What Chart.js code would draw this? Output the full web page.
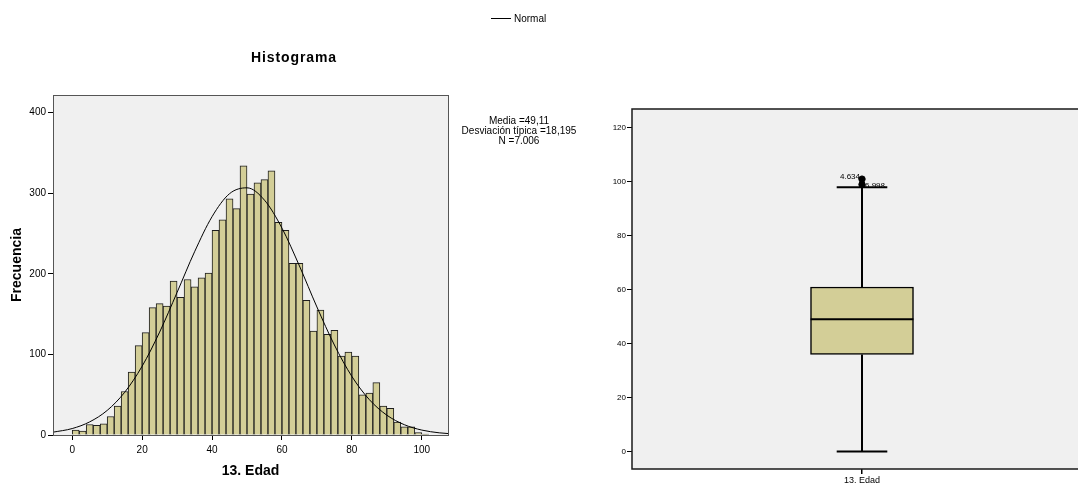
<!DOCTYPE html>
<html><head><meta charset="utf-8">
<script src="https://cdn.jsdelivr.net/npm/chart.js@4/dist/chart.umd.min.js"></script>
<style>
html,body{margin:0;padding:0;background:#fff;overflow:hidden}
#wrap{position:relative;width:1078px;height:483px;overflow:hidden;font-family:"Liberation Sans",Arial,sans-serif;color:#000}
canvas{position:absolute;top:0}
.t{position:absolute;white-space:nowrap}
</style></head><body>
<div id="wrap">
<canvas id="hist" width="600" height="483" style="left:0"></canvas>
<canvas id="box" width="497" height="483" style="left:600px"></canvas>
<div class="t" id="title" style="left:194px;top:49px;width:200px;text-align:center;font-weight:bold;font-size:14px;line-height:16px;letter-spacing:0.9px"></div>
<div style="position:absolute;left:491px;top:18px;width:20px;height:1px;background:#000"></div>
<div class="t" id="legend" style="left:514px;top:13px;font-size:10px;line-height:12px"></div>
<div class="t" id="stats" style="left:419px;top:116px;width:200px;text-align:center;font-size:10px;line-height:10px"></div>
</div>
<script>
// ---------- data ----------
const histTitle = 'Histograma';
const xAxisTitle = '13. Edad';
const yAxisTitle = 'Frecuencia';
const legendLabel = 'Normal';
const statsLines = ['Media =49,11', 'Desviación típica =18,195', 'N =7.006'];

const binCenters = [1,3,5,7,9,11,13,15,17,19,21,23,25,27,29,31,33,35,37,39,41,43,45,47,49,51,53,55,57,59,61,63,65,67,69,71,73,75,77,79,81,83,85,87,89,91,93,95,97,99,101];
const counts = [6,5,13,12,14,23,36,54,78,111,127,158,163,160,191,171,193,184,195,201,254,267,293,281,334,299,313,317,328,264,254,213,213,167,129,155,125,130,98,103,98,50,52,65,36,33,16,10,10,3,1];

const normalX = [-5.5,0,5,10,15,20,25,30,35,40,45,50,55,60,65,70,75,80,85,90,95,100,105,107.5];
const normalY = [3.5,8.0,16.3,30.5,53.0,85.4,127.7,177.0,227.4,271.0,299.5,306.8,291.5,256.8,209.8,158.9,111.7,72.7,43.9,24.6,12.8,6.1,2.7,1.8];

const boxCategory = ['13. Edad'];
const whiskerLow = 0, q1 = 36, median = 49, q3 = 61, whiskerHigh = 98;
const outlierValues = [101, 99];
const outlierLabels = ['4.634', '6.998'];

// ---------- text ----------
document.getElementById('title').textContent = histTitle;
document.getElementById('legend').textContent = legendLabel;
document.getElementById('stats').innerHTML = statsLines.join('<br>');

// ---------- style ----------
const FONT = '"Liberation Sans", Arial, sans-serif';
Chart.defaults.font.family = FONT;
Chart.defaults.color = '#000';
const BAR_FILL = '#d3ce97';
const PLOT_BG = '#f0f0f0';
const BOX_CENTER = 1, CAP_HALF = 0.11, BOX_HALF = 0.2236;

const histFrame = {
  id: 'histFrame',
  afterDraw(chart) {
    const {ctx, chartArea: a} = chart;
    ctx.save();
    ctx.strokeStyle = '#555';
    ctx.lineWidth = 1;
    ctx.strokeRect(Math.round(a.left) + 0.5, Math.round(a.top) + 0.5, Math.round(a.right - a.left), Math.round(a.bottom - a.top));
    ctx.restore();
  }
};
const bgFill = {
  id: 'bgFill',
  beforeDraw(chart) {
    const {ctx, chartArea: a} = chart;
    ctx.save();
    ctx.fillStyle = PLOT_BG;
    ctx.fillRect(a.left, a.top, a.right - a.left, a.bottom - a.top);
    ctx.restore();
  }
};

// ---------- histogram ----------
new Chart(document.getElementById('hist'), {
  type: 'bar',
  data: {
    datasets: [
      {
        type: 'line', label: legendLabel,
        data: normalX.map((x, i) => ({x, y: normalY[i]})),
        borderColor: '#000', borderWidth: 1, pointRadius: 0,
        cubicInterpolationMode: 'monotone', order: 0
      },
      {
        type: 'bar', label: yAxisTitle,
        data: binCenters.map((x, i) => ({x, y: counts[i]})),
        backgroundColor: BAR_FILL, borderColor: '#1e1e1e', borderWidth: 1,
        barPercentage: 1, categoryPercentage: 1, order: 1
      }
    ]
  },
  options: {
    responsive: false, animation: false, devicePixelRatio: 1,
    layout: {padding: {left: 0, top: 95, right: 152, bottom: 0}},
    plugins: {legend: {display: false}, tooltip: {enabled: false}},
    scales: {
      x: {
        type: 'linear', min: -5.5, max: 107.5, offset: false,
        ticks: {stepSize: 20, includeBounds: false, font: {size: 10}, padding: 4, maxRotation: 0, color: '#000'},
        grid: {offset: false, drawOnChartArea: false, drawTicks: true, tickLength: 5, color: '#000'},
        border: {display: true, color: '#000', width: 1},
        title: {display: true, text: xAxisTitle, font: {size: 14, weight: 'bold'}, color: '#000', padding: {top: 0, bottom: 3}},
        afterFit(s) { s.height = 48; }
      },
      y: {
        type: 'linear', min: 0, max: 422,
        ticks: {stepSize: 100, includeBounds: false, font: {size: 10}, padding: 2, color: '#000'},
        grid: {drawOnChartArea: false, drawTicks: true, tickLength: 5, color: '#000'},
        border: {display: true, color: '#000', width: 1},
        title: {display: true, text: yAxisTitle, font: {size: 14, weight: 'bold'}, color: '#000', padding: {top: 9, bottom: 0}},
        afterFit(s) { s.width = 53; }
      }
    }
  },
  plugins: [bgFill, histFrame]
});

// ---------- boxplot ----------
const lineStyle = {type: 'line', borderColor: '#000', borderWidth: 2, pointRadius: 0, order: 0};
const outlierLabelPlugin = {
  id: 'outlierLabels',
  afterDatasetsDraw(chart) {
    const meta = chart.getDatasetMeta(6);
    const {ctx} = chart;
    ctx.save();
    ctx.font = '8px ' + FONT;
    ctx.fillStyle = '#000';
    ctx.textBaseline = 'middle';
    meta.data.forEach((pt, i) => {
      if (i === 0) {
        ctx.textAlign = 'right';
        ctx.fillText(outlierLabels[i], pt.x - 2, pt.y - 2.5);
      } else {
        ctx.textAlign = 'left';
        ctx.fillText(outlierLabels[i], pt.x + 3, pt.y + 1.5);
      }
    });
    ctx.restore();
  }
};
const boxFrame = {
  id: 'boxFrame',
  afterDraw(chart) {
    const {ctx, chartArea: a} = chart;
    ctx.save();
    ctx.strokeStyle = '#1a1a1a';
    ctx.lineWidth = 1.5;
    ctx.strokeRect(a.left, a.top, a.right - a.left, a.bottom - a.top);
    ctx.restore();
  }
};

new Chart(document.getElementById('box'), {
  type: 'bar',
  data: {
    datasets: [
      {type: 'bar', data: [{x: BOX_CENTER, y: [q1, q3]}], backgroundColor: BAR_FILL, borderColor: '#000', borderWidth: 1.5, borderSkipped: false, barThickness: 103, order: 2},
      {...lineStyle, data: [{x: BOX_CENTER, y: q3}, {x: BOX_CENTER, y: whiskerHigh}]},
      {...lineStyle, data: [{x: BOX_CENTER, y: whiskerLow}, {x: BOX_CENTER, y: q1}]},
      {...lineStyle, data: [{x: BOX_CENTER - CAP_HALF, y: whiskerHigh}, {x: BOX_CENTER + CAP_HALF, y: whiskerHigh}]},
      {...lineStyle, data: [{x: BOX_CENTER - CAP_HALF, y: whiskerLow}, {x: BOX_CENTER + CAP_HALF, y: whiskerLow}]},
      {...lineStyle, data: [{x: BOX_CENTER - BOX_HALF, y: median}, {x: BOX_CENTER + BOX_HALF, y: median}]},
      {type: 'scatter', data: outlierValues.map(v => ({x: BOX_CENTER, y: v})), pointRadius: 3.2, backgroundColor: '#000', borderColor: '#000', order: 0}
    ]
  },
  options: {
    responsive: false, animation: false, devicePixelRatio: 1,
    layout: {padding: {left: 0, top: 109, right: 0, bottom: 0}},
    plugins: {legend: {display: false}, tooltip: {enabled: false}},
    scales: {
      x: {
        type: 'linear', min: 0, max: 2, offset: false,
        afterBuildTicks(s) { s.ticks = [{value: BOX_CENTER}]; },
        ticks: {font: {size: 9}, padding: 1, maxRotation: 0, autoSkip: false, color: '#000',
          callback: (v) => v === BOX_CENTER ? boxCategory[0] : ''},
        grid: {offset: false, drawOnChartArea: false, drawTicks: true, tickLength: 5, color: '#000', lineWidth: 1.5},
        border: {display: false},
        afterFit(s) { s.height = 14; }
      },
      y: {
        type: 'linear', min: -6.5, max: 127,
        ticks: {stepSize: 20, includeBounds: false, font: {size: 8}, padding: 1, color: '#000'},
        grid: {drawOnChartArea: false, drawTicks: true, tickLength: 5, color: '#000'},
        border: {display: false},
        afterFit(s) { s.width = 32; }
      }
    }
  },
  plugins: [bgFill, boxFrame, outlierLabelPlugin]
});
</script>
</body></html>
